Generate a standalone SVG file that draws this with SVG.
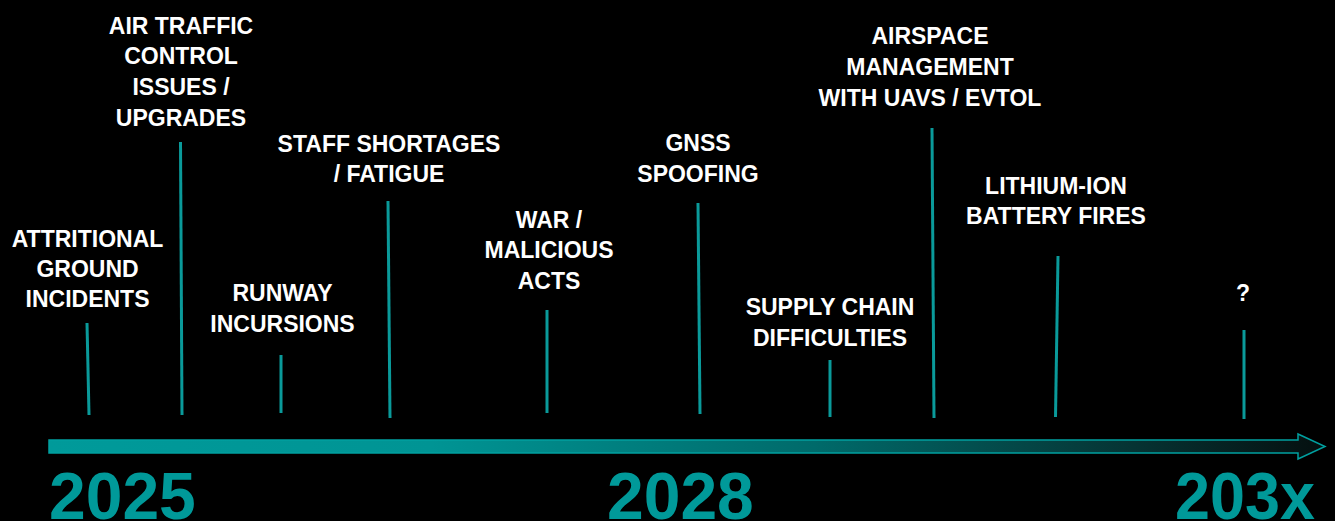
<svg xmlns="http://www.w3.org/2000/svg" width="1335" height="521" viewBox="0 0 1335 521">
<defs>
<linearGradient id="bar" x1="49" y1="0" x2="1325" y2="0" gradientUnits="userSpaceOnUse">
<stop offset="0" stop-color="#009a9a"/>
<stop offset="0.3" stop-color="#009494"/>
<stop offset="0.6" stop-color="#006a6a"/>
<stop offset="0.85" stop-color="#063333"/>
<stop offset="1" stop-color="#050f0f"/>
</linearGradient>
<style>
.lbl{font-family:"Liberation Sans",Arial,sans-serif;font-weight:bold;font-size:23px;fill:#ffffff;text-anchor:middle}
.yr{font-family:"Liberation Sans",Arial,sans-serif;font-weight:bold;font-size:66px;fill:#009999}
.tick{stroke:#0a9a9a;stroke-width:3;fill:none}
</style>
</defs>
<rect width="1335" height="521" fill="#000000"/>

<g id="connectors">
<line class="tick" x1="87" y1="323" x2="89" y2="415"/>
<line class="tick" x1="180.5" y1="142" x2="182" y2="415"/>
<line class="tick" x1="281" y1="355" x2="281" y2="413"/>
<line class="tick" x1="388" y1="201" x2="390" y2="418"/>
<line class="tick" x1="547" y1="310" x2="547" y2="413"/>
<line class="tick" x1="698" y1="203" x2="700" y2="414"/>
<line class="tick" x1="830" y1="360" x2="830" y2="417"/>
<line class="tick" x1="932" y1="128" x2="934" y2="418"/>
<line class="tick" x1="1058" y1="256" x2="1055.5" y2="417"/>
<line class="tick" x1="1244" y1="330" x2="1244" y2="419"/>
</g>

<g id="timeline">
<path d="M49,440 H1298 V434 L1325,446.5 L1298,459 V453 H49 Z" fill="url(#bar)" stroke="#00a0a0" stroke-width="1.5" stroke-linejoin="miter"/>
<text class="yr" x="49" y="519">2025</text>
<text class="yr" x="607" y="519">2028</text>
<text class="yr" x="1175" y="519" textLength="140" lengthAdjust="spacingAndGlyphs">203x</text>
</g>

<g id="n1"><text class="lbl" x="87.5"><tspan x="87.5" y="247">ATTRITIONAL</tspan><tspan x="87.5" y="277">GROUND</tspan><tspan x="87.5" y="307">INCIDENTS</tspan></text></g>
<g id="n2"><text class="lbl" x="181"><tspan x="181" y="34">AIR TRAFFIC</tspan><tspan x="181" y="64">CONTROL</tspan><tspan x="181" y="95">ISSUES /</tspan><tspan x="181" y="126">UPGRADES</tspan></text></g>
<g id="n3"><text class="lbl" x="282.5"><tspan x="282.5" y="301">RUNWAY</tspan><tspan x="282.5" y="332">INCURSIONS</tspan></text></g>
<g id="n4"><text class="lbl" x="389"><tspan x="389" y="152">STAFF SHORTAGES</tspan><tspan x="389" y="182">/ FATIGUE</tspan></text></g>
<g id="n5"><text class="lbl" x="549"><tspan x="549" y="228">WAR /</tspan><tspan x="549" y="258">MALICIOUS</tspan><tspan x="549" y="289">ACTS</tspan></text></g>
<g id="n6"><text class="lbl" x="698"><tspan x="698" y="151">GNSS</tspan><tspan x="698" y="182">SPOOFING</tspan></text></g>
<g id="n7"><text class="lbl" x="830"><tspan x="830" y="315">SUPPLY CHAIN</tspan><tspan x="830" y="346">DIFFICULTIES</tspan></text></g>
<g id="n8"><text class="lbl" x="930"><tspan x="930" y="44">AIRSPACE</tspan><tspan x="930" y="75">MANAGEMENT</tspan><tspan x="930" y="106">WITH UAVS / EVTOL</tspan></text></g>
<g id="n9"><text class="lbl" x="1056"><tspan x="1056" y="194">LITHIUM-ION</tspan><tspan x="1056" y="224">BATTERY FIRES</tspan></text></g>
<g id="n10"><text class="lbl" x="1243" y="301">?</text></g>
</svg>
